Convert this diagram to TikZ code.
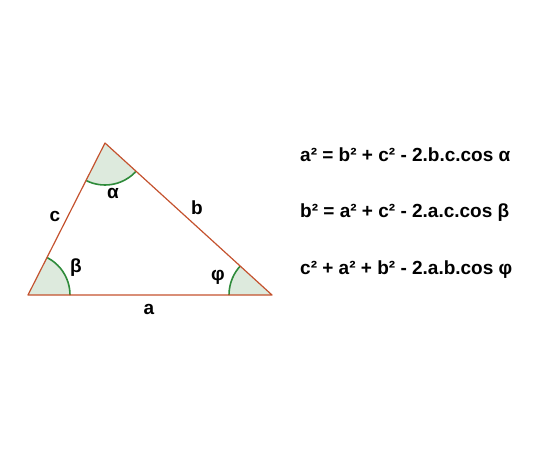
\documentclass[tikz,border=0pt]{standalone}
\usepackage{fontspec}
\setmainfont{Liberation Sans}
\definecolor{side}{HTML}{C4522E}
\definecolor{arcg}{HTML}{2E8B3A}
\definecolor{fillg}{HTML}{DDEADD}
\begin{document}
\begin{tikzpicture}[x=1pt,y=-1pt,
  lab/.style={font=\fontsize{19}{22}\selectfont\bfseries, inner sep=0pt},
  formula/.style={font=\fontsize{19}{22}\selectfont\bfseries, inner sep=0pt, anchor=west}]
\useasboundingbox (0,0) rectangle (550,450);
\coordinate (L) at (28,295);
\coordinate (T) at (105,143);
\coordinate (R) at (272,295);
\begin{scope}
  \clip (L) -- (T) -- (R) -- cycle;
  \fill[fillg] (L) circle[radius=42pt] (T) circle[radius=42pt] (R) circle[radius=43pt];
  \draw[arcg, line width=1.6pt] (L) circle[radius=42pt] (T) circle[radius=42pt] (R) circle[radius=43pt];
\end{scope}
\draw[side, line width=1.2pt, line join=round] (L) -- (T) -- (R) -- cycle;
\node[lab] (alpha) at (113,193) {α};
\node[lab] (beta) at (76,268) {β};
\node[lab] (phi) at (218,277) {φ};
\node[lab] (c) at (55,216) {c};
\node[lab] (b) at (197,208) {b};
\node[lab] (a) at (149,309) {a};
\node[formula] (f1) at (300,155) {a² = b² + c² - 2.b.c.cos α};
\node[formula] (f2) at (300,213) {b² = a² + c² - 2.a.c.cos β};
\node[formula] (f3) at (300,270) {c² + a² + b² - 2.a.b.cos φ};
\end{tikzpicture}
\end{document}
